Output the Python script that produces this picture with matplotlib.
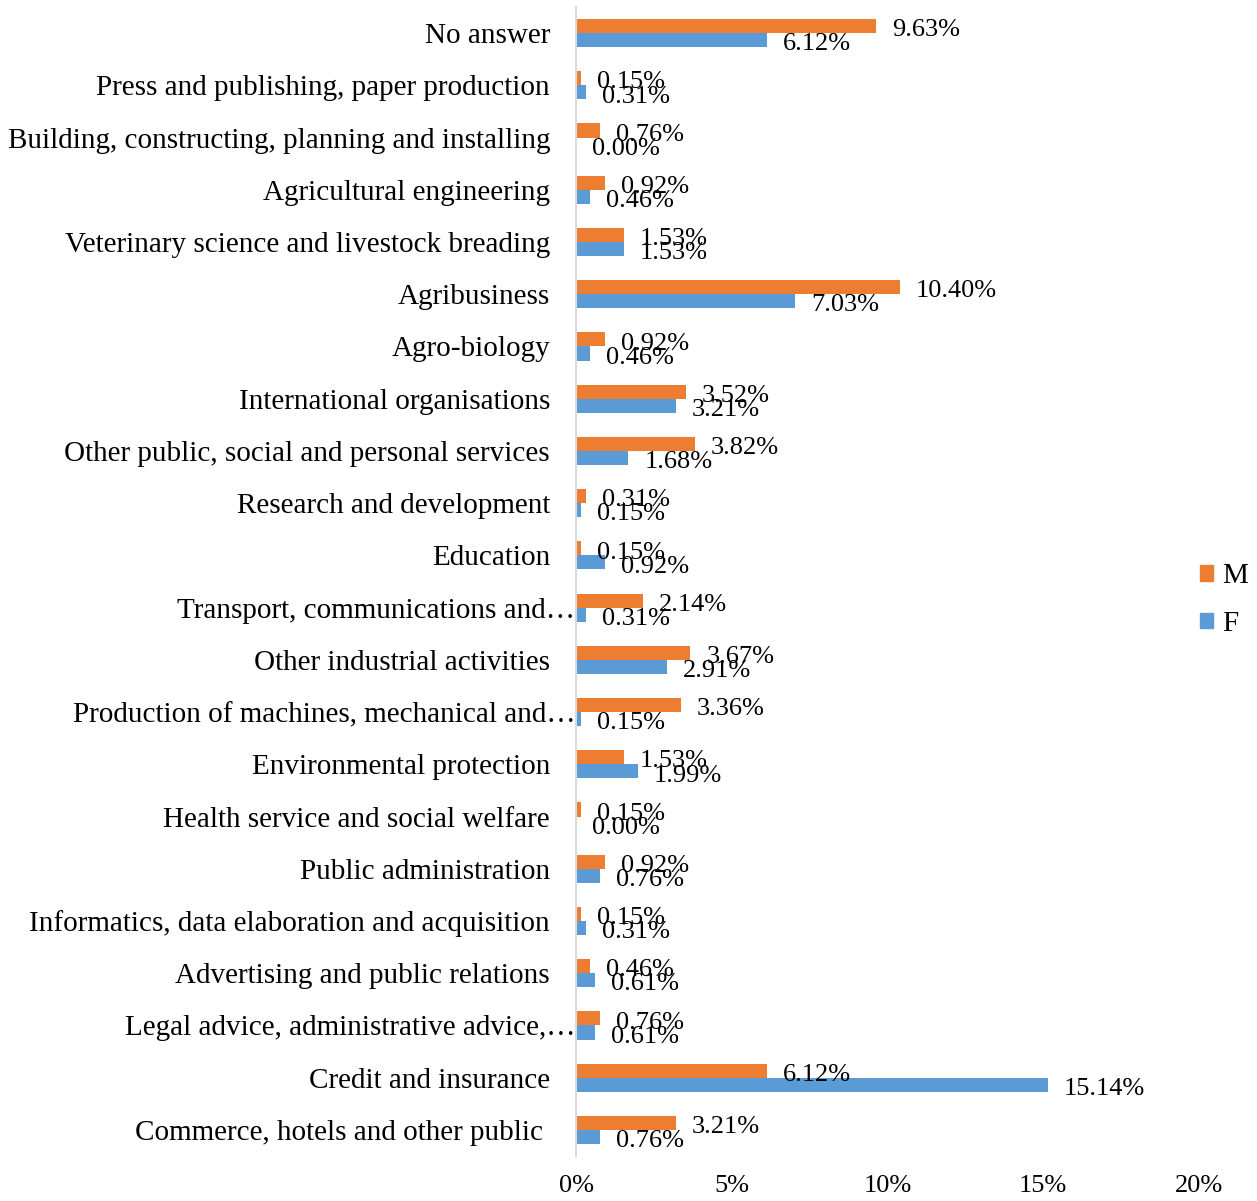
import matplotlib
matplotlib.use("Agg")
import matplotlib.pyplot as plt
from matplotlib.patches import Patch
import numpy as np

plt.rcParams['font.family'] = ['Liberation Serif', 'DejaVu Serif']

categories = [
    "No answer",
    "Press and publishing, paper production",
    "Building, constructing, planning and installing",
    "Agricultural engineering",
    "Veterinary science and livestock breading",
    "Agribusiness",
    "Agro-biology",
    "International organisations",
    "Other public, social and personal services",
    "Research and development",
    "Education",
    "Transport, communications and…",
    "Other industrial activities",
    "Production of machines, mechanical and…",
    "Environmental protection",
    "Health service and social welfare",
    "Public administration",
    "Informatics, data elaboration and acquisition",
    "Advertising and public relations",
    "Legal advice, administrative advice,…",
    "Credit and insurance",
    "Commerce, hotels and other public ",
]
m_values = [9.63, 0.15, 0.76, 0.92, 1.53, 10.40, 0.92, 3.52, 3.82, 0.31, 0.15,
            2.14, 3.67, 3.36, 1.53, 0.15, 0.92, 0.15, 0.46, 0.76, 6.12, 3.21]
f_values = [6.12, 0.31, 0.00, 0.46, 1.53, 7.03, 0.46, 3.21, 1.68, 0.15, 0.92,
            0.31, 2.91, 0.15, 1.99, 0.00, 0.76, 0.31, 0.61, 0.61, 15.14, 0.76]
x_ticks = [0, 5, 10, 15, 20]
x_tick_labels = ["0%", "5%", "10%", "15%", "20%"]

c_m = "#ED7D31"
c_f = "#5B9BD5"
fs = 19
fs_cat = 21

fig = plt.figure(figsize=(12.57, 12.01), dpi=100)
ax = fig.add_axes([576/1257, 45/1201, (1199-576)/1257, (1194-45)/1201])

y = np.arange(len(categories))
h = 0.27
ax.barh(y - h/2, m_values, height=h, color=c_m, label="M")
ax.barh(y + h/2, f_values, height=h, color=c_f, label="F")

for yi, v in zip(y - h/2, m_values):
    ax.annotate(f"{v:.2f}%", xy=(v, yi), xytext=(11.5, -3), textcoords="offset points",
                ha="left", va="center", fontsize=fs, color="black")
for yi, v in zip(y + h/2, f_values):
    ax.annotate(f"{v:.2f}%", xy=(v, yi), xytext=(11.5, -3), textcoords="offset points",
                ha="left", va="center", fontsize=fs, color="black")

ax.set_ylim(len(categories) - 0.5, -0.5)
ax.set_xlim(0, 20)
ax.set_yticks(y)
ax.set_yticklabels([""] * len(categories))
for yi, name in zip(y, categories):
    off = -0.5 if name.endswith("…") else -18.7
    ax.annotate(name, xy=(0, yi), xycoords=ax.get_yaxis_transform(),
                xytext=(off, 0), textcoords="offset points",
                ha="right", va="center_baseline", fontsize=fs_cat, color="black")
ax.set_xticks(x_ticks)
ax.set_xticklabels(x_tick_labels, fontsize=fs)
ax.tick_params(axis="y", length=0)
ax.tick_params(axis="x", length=0, pad=14)
for s in ["top", "right", "bottom"]:
    ax.spines[s].set_visible(False)
ax.spines["left"].set_color("#D9D9D9")
ax.spines["left"].set_linewidth(1.5)

handles = [Patch(color=c_m, label="M"), Patch(color=c_f, label="F")]
fig.legend(handles=handles, loc="center left", bbox_to_anchor=(1200/1257, 1 - 600/1201),
           frameon=False, fontsize=fs_cat, handlelength=0.45, handleheight=0.45,
           handletextpad=0.3, labelspacing=0.75, borderpad=0, borderaxespad=0)

fig.savefig("out.png", dpi=100)
